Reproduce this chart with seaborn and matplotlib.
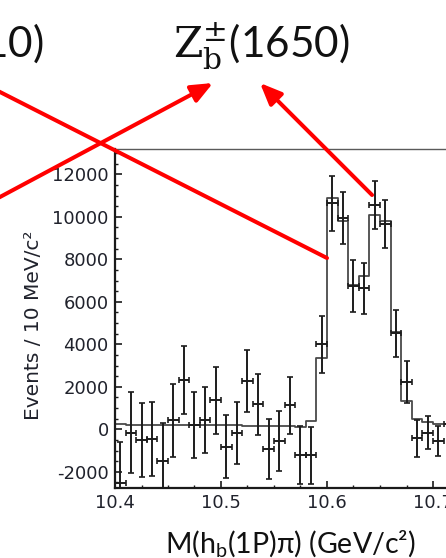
import numpy as np
import pandas as pd
import matplotlib
matplotlib.use("Agg")
import matplotlib.pyplot as plt
from matplotlib.patches import ArrowStyle
from matplotlib.ticker import MultipleLocator
import seaborn as sns

# Measured yield per 10 MeV bin (bin centres in GeV/c^2)
mass = [10.405, 10.415, 10.425, 10.435, 10.445, 10.455, 10.465, 10.475,
        10.485, 10.495, 10.505, 10.515, 10.525, 10.535, 10.545, 10.555,
        10.565, 10.575, 10.585, 10.595, 10.605, 10.615, 10.625, 10.635,
        10.645, 10.655, 10.665, 10.675, 10.685, 10.695, 10.705, 10.715]
events = [-2540, -150, -520, -470, -1480, 420, 2310, 200,
          440, 1370, -810, -160, 2260, 1180, -930, -545,
          1140, -1200, -1230, 4000, 10630, 9960, 6760, 6630,
          10560, 9660, 4510, 2230, -420, -150, -550, 250]
errors = [1950, 1900, 1740, 1740, 1760, 1720, 1590, 1570,
          1530, 1580, 1480, 1460, 1450, 1440, 1420, 1400,
          1340, 1350, 1350, 1330, 1280, 1220, 1220, 1180,
          1140, 1120, 1100, 1000, 880, 770, 700, 700]

# Fit result, one value per 10 MeV bin starting at 10.40
fit_edges = [10.40, 10.41, 10.42, 10.43, 10.44, 10.45, 10.46, 10.47, 10.48,
             10.49, 10.50, 10.51, 10.52, 10.53, 10.54, 10.55, 10.56, 10.57,
             10.58, 10.59, 10.60, 10.61, 10.62, 10.63, 10.64, 10.65, 10.66,
             10.67, 10.68, 10.69, 10.70, 10.71, 10.72, 10.73, 10.74, 10.75]
fit_values = [230, 225, 220, 215, 210, 205, 200, 200, 195,
              190, 190, 185, 180, 180, 175, 170, 160, 100,
              390, 3350, 10870, 9800, 6790, 7210, 10100, 9800, 4600,
              1350, 480, 360, 260, 250, 230, 210, 200]

x_ticks = [10.4, 10.5, 10.6, 10.7]
y_ticks = [-2000, 0, 2000, 4000, 6000, 8000, 10000, 12000]

sns.set_style("white")
plt.rcParams["axes.unicode_minus"] = False
plt.rcParams["mathtext.fontset"] = "custom"
plt.rcParams["mathtext.rm"] = "DejaVu Serif"
plt.rcParams["mathtext.sf"] = "Lato"
plt.rcParams["font.family"] = ["DejaVu Sans"]

W, H = 446, 558
fig = plt.figure(figsize=(W / 100, H / 100), dpi=100)
fig.patch.set_facecolor("white")
ax = fig.add_axes([115 / W, 70 / H, 371 / W, 339 / H])

centres = np.array(fit_edges[:-1]) + 0.005
fit_df = pd.DataFrame({"mass": centres, "fit": fit_values})
sns.histplot(data=fit_df, x="mass", weights="fit", bins=fit_edges,
             element="step", fill=False, color="#4a4a4a", linewidth=1.3,
             ax=ax)

ax.errorbar(mass, events, yerr=errors, xerr=0.005, fmt="none",
            ecolor="#1c1c1c", elinewidth=1.4, capsize=2.0, capthick=1.2,
            zorder=4)

ax.set_xlim(10.4, 10.75)
ax.set_ylim(-2760, 13190)
ax.set_xticks(x_ticks)
ax.set_yticks(y_ticks)
ax.xaxis.set_minor_locator(MultipleLocator(0.025))
ax.yaxis.set_minor_locator(MultipleLocator(500))
ax.set_xticklabels([f"{t:.1f}" for t in x_ticks])
ax.set_yticklabels([str(t) for t in y_ticks])

tick_color = "#20222c"
ax.tick_params(axis="both", which="both", direction="in", colors="#1a1a1a",
               labelcolor=tick_color, labelsize=13, top=False, right=False,
               left=True, bottom=True)
ax.tick_params(axis="both", which="major", length=5, width=1.2)
ax.tick_params(axis="both", which="minor", length=2.5, width=1.0)
ax.tick_params(axis="y", pad=4.5)
ax.tick_params(axis="x", pad=4.5)

for side in ("left", "bottom"):
    ax.spines[side].set_color("#1a1a1a")
    ax.spines[side].set_linewidth(1.6)
ax.spines["top"].set_color("#5a5a5a")
ax.spines["top"].set_linewidth(1.0)
ax.spines["right"].set_visible(False)

ax.set_xlabel("")
ax.set_ylabel("Events / 10 MeV/c²", fontsize=14.5, color=tick_color)
ax.yaxis.set_label_coords((43 - 115) / 371, (488 - 325) / 339)

fig.text(290 / W, (H - 553) / H, r"M(h$_\mathsf{b}$(1P)π) (GeV/c²)",
         family=["Lato", "DejaVu Sans"], fontsize=20.5, color="#111111",
         ha="center", va="baseline")

label_kw = dict(family=["Lato", "DejaVu Sans"], fontsize=30.5, color="#111111",
                va="baseline")
fig.text(173 / W, (H - 57) / H, r"$\mathrm{Z}_\mathrm{b}^{\pm}$(1650)",
         ha="left", **label_kw)
fig.text(44 / W, (H - 57) / H, r"$\mathrm{Z}_\mathrm{b}^{\pm}$(1610)",
         ha="right", **label_kw)

# Red arrows linking the peaks to their labels
head = ArrowStyle("-|>", head_length=1.3, head_width=0.55)
arrow_kw = dict(arrowstyle=head, color="#ff0000", lw=2.9,
                mutation_scale=10, shrinkA=0, shrinkB=0)
ax.annotate("", xy=(-40, H - 71.7), xycoords="figure pixels",
            xytext=(10.6, 8060), textcoords="data",
            arrowprops=arrow_kw, annotation_clip=False)
ax.annotate("", xy=(213, H - 83), xycoords="figure pixels",
            xytext=(-40, H - 218.4), textcoords="figure pixels",
            arrowprops=arrow_kw, annotation_clip=False)
ax.annotate("", xy=(260, H - 83), xycoords="figure pixels",
            xytext=(10.6425, 11025), textcoords="data",
            arrowprops=arrow_kw, annotation_clip=False)

fig.savefig("out.png", dpi=100, facecolor="white")
